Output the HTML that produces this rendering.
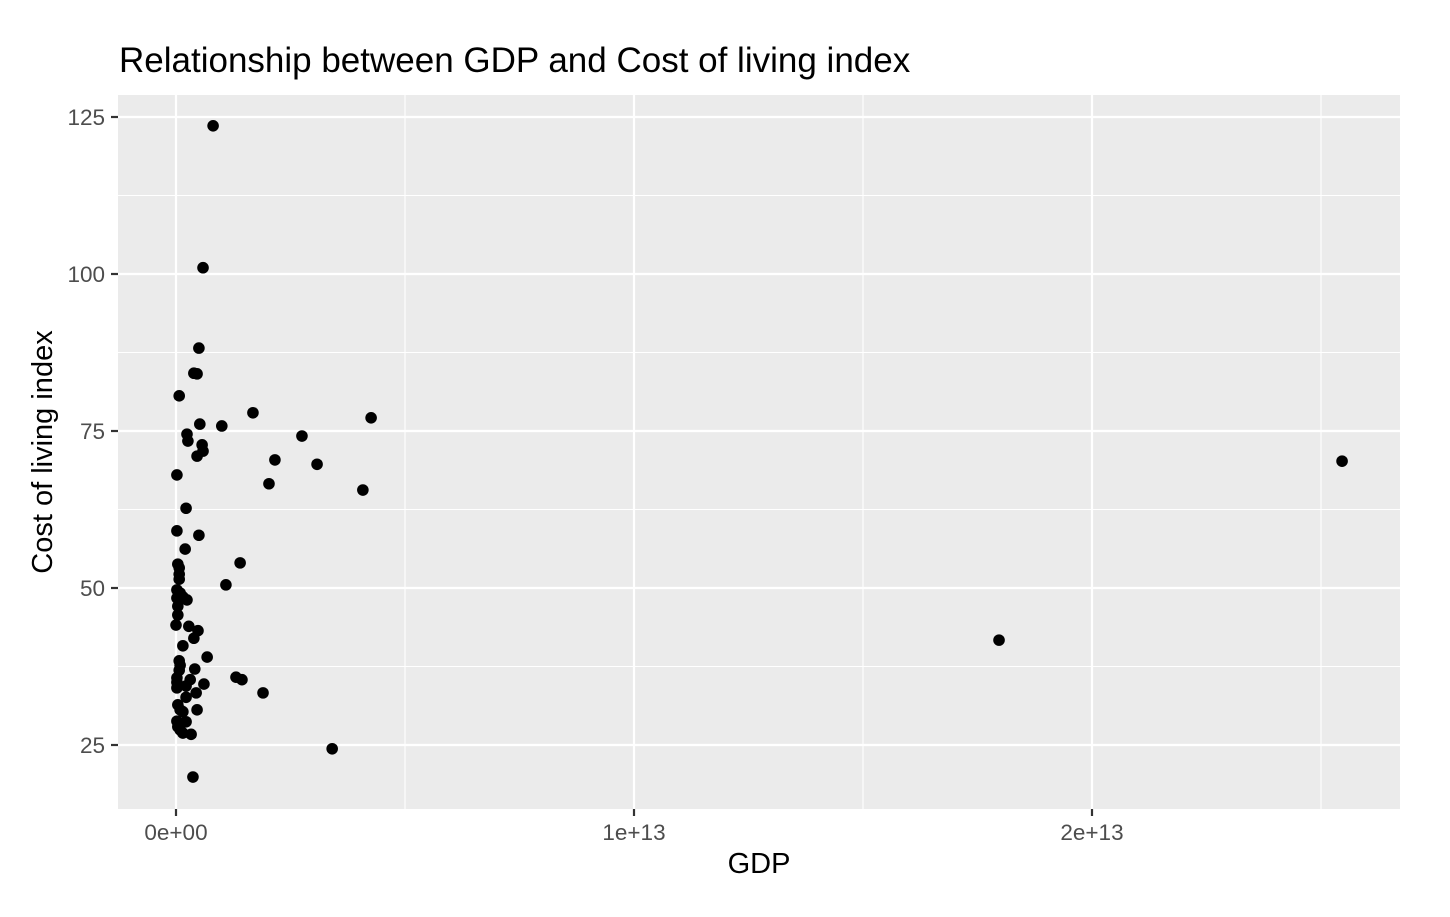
<!DOCTYPE html>
<html><head><meta charset="utf-8"><style>
body{margin:0;background:#fff;}
svg text{font-family:"Liberation Sans",sans-serif;}
</style></head><body>
<svg id="chart" width="1450" height="912">
<rect width="1450" height="912" fill="#fff"/>
<text x="119" y="72" font-size="35" fill="#000">Relationship between GDP and Cost of living index</text>
<rect x="118" y="95" width="1282" height="714" fill="#ebebeb"/>
<g id="grid"></g>
<g id="axes"></g>
<g id="points"></g>
<text x="759" y="873" font-size="29" text-anchor="middle" fill="#000">GDP</text>
<text transform="translate(52,452) rotate(-90)" font-size="29" text-anchor="middle" fill="#000">Cost of living index</text>
</svg>
<script>
const gdpTrillions = [0.81,0.59,0.50,0.39,0.46,0.07,1.68,4.26,1.00,0.52,0.24,0.26,2.75,0.57,0.59,0.46,2.16,3.08,25.46,2.03,4.08,0.02,0.22,0.02,0.50,0.20,1.40,0.04,0.07,0.07,0.07,1.09,0.02,0.09,0.15,0.24,0.02,0.04,0.04,0.00,0.28,0.48,0.39,0.15,0.68,0.41,0.07,0.09,0.07,1.31,1.44,0.61,1.90,0.02,0.02,0.31,0.22,0.02,0.44,0.22,0.04,0.09,0.46,0.15,0.22,0.02,0.04,0.09,0.15,0.33,3.41,0.37,17.97];
const costIndex = [123.6,101.0,88.2,84.2,84.1,80.6,77.9,77.1,75.8,76.1,74.5,73.4,74.2,72.8,71.8,71.0,70.4,69.7,70.2,66.6,65.6,68.0,62.7,59.1,58.4,56.2,54.0,53.8,53.2,52.2,51.4,50.5,49.7,49.2,48.6,48.1,48.4,47.1,45.7,44.1,43.9,43.2,42.0,40.8,39.0,37.1,38.4,37.7,36.9,35.8,35.4,34.7,33.3,35.7,35.0,35.4,34.4,34.1,33.3,32.6,31.4,30.6,30.6,30.3,28.7,28.8,27.9,27.4,26.9,26.7,24.4,19.9,41.7];
const xTicks = [0,10,20];
const xTickLabels = ["0e+00","1e+13","2e+13"];
const xMinor = [5,15,25];
const yTicks = [25,50,75,100,125];
const yTickLabels = ["25","50","75","100","125"];
const yMinor = [37.5,62.5,87.5,112.5];

const X = v => 176 + v*45.8;
const Y = v => 117 + (125 - v)*6.28;
const NS = "http://www.w3.org/2000/svg";
const grid = document.getElementById('grid'), axes = document.getElementById('axes'), pts = document.getElementById('points');
function mk(tag, attrs, parent){const e=document.createElementNS(NS,tag);for(const k in attrs)e.setAttribute(k,attrs[k]);parent.appendChild(e);return e;}
xMinor.forEach(v=>{const l=mk('line',{x1:X(v),x2:X(v),y1:95,y2:809,stroke:'#fff','stroke-width':1.1},grid);

});
yMinor.forEach(v=>{const l=mk('line',{x1:118,x2:1400,y1:Y(v),y2:Y(v),stroke:'#fff','stroke-width':1.1},grid);

});
xTicks.forEach((v,i)=>{const l=mk('line',{x1:X(v),x2:X(v),y1:95,y2:809,stroke:'#fff','stroke-width':2.2},grid);


const t=mk('line',{x1:X(v),x2:X(v),y1:809,y2:816,stroke:'#333','stroke-width':2.2},axes);


const tx=mk('text',{x:X(v),y:840,'font-size':22.5,'text-anchor':'middle',fill:'#4d4d4d'},axes);tx.textContent=xTickLabels[i];

});
yTicks.forEach((v,i)=>{const l=mk('line',{x1:118,x2:1400,y1:Y(v),y2:Y(v),stroke:'#fff','stroke-width':2.2},grid);


const t=mk('line',{x1:111,x2:118,y1:Y(v),y2:Y(v),stroke:'#333','stroke-width':2.2},axes);


const tx=mk('text',{x:105,y:Y(v)+8,'font-size':22.5,'text-anchor':'end',fill:'#4d4d4d'},axes);tx.textContent=yTickLabels[i];

});
gdpTrillions.forEach((g,i)=>{const c=mk('circle',{cx:X(g),cy:Y(costIndex[i]),r:5.8,fill:'#000'},pts);

});
</script>
</body></html>
